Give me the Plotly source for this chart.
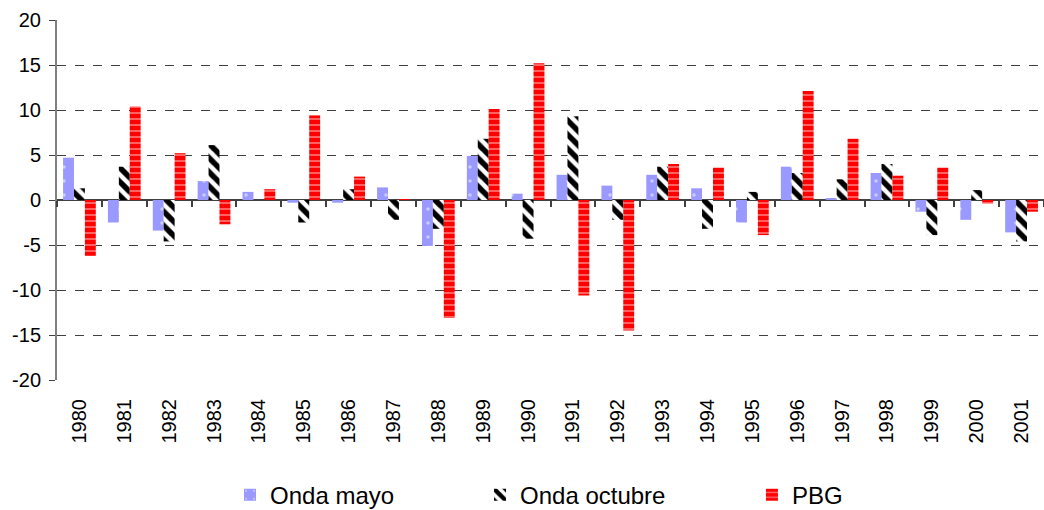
import plotly.graph_objects as go

years = [str(y) for y in range(1980, 2002)]
onda_mayo = [4.7, -2.5, -3.4, 2.1, 0.9, -0.3, -0.3, 1.4, -5.1, 4.9, 0.7,
             2.8, 1.6, 2.8, 1.3, -2.5, 3.7, 0.2, 3.0, -1.3, -2.2, -3.6]
onda_octubre = [1.3, 3.7, -4.6, 6.1, 0.0, -2.5, 1.2, -2.2, -3.2, 6.8, -4.3,
                9.3, -2.2, 3.7, -3.2, 0.9, 3.0, 2.3, 4.0, -3.9, 1.1, -4.6]
pbg = [-6.2, 10.4, 5.2, -2.7, 1.2, 9.4, 2.6, 0.1, -13.1, 10.1, 15.2,
       -10.6, -14.5, 4.0, 3.6, -3.9, 12.1, 6.8, 2.7, 3.6, -0.4, -1.3]
y_ticks = [-20, -15, -10, -5, 0, 5, 10, 15, 20]
y_tick_text = ["-20", "-15", "-10", "-5", "0", "5", "10", "15", "20"]

font = "Liberation Sans, Arial, sans-serif"

fig = go.Figure()

# Onda mayo: light blue with sparse white dots
fig.add_trace(go.Bar(
    x=years, y=onda_mayo, name="Onda mayo", legend="legend",
    marker=dict(color="#9999ff", line_width=0,
                pattern=dict(shape=".", fgcolor="white", bgcolor="#9999ff",
                             size=14, solidity=0.05)),
))

# Onda octubre: bold black diagonal stripes on white
fig.add_trace(go.Bar(
    x=years, y=onda_octubre, name="Onda octubre", legend="legend2",
    marker=dict(color="black", line_width=0,
                pattern=dict(shape="\\", fgcolor="black", fgopacity=1,
                             bgcolor="white", size=10, solidity=0.55)),
))

# PBG: red with thin light horizontal lines
fig.add_trace(go.Bar(
    x=years, y=pbg, name="PBG", legend="legend3",
    marker=dict(color="red", line_width=0,
                pattern=dict(shape="-", fgcolor="#ffd6d6", bgcolor="red",
                             size=6, solidity=0.3)),
))

# invisible trace carrying the tick marks along the zero line
fig.add_trace(go.Scatter(x=years, y=[0] * len(years), xaxis="x2",
                         mode="none", showlegend=False, hoverinfo="skip"))

leg = dict(orientation="h", xanchor="left", y=-0.32, yanchor="middle",
           font=dict(size=24), itemwidth=30, bgcolor="rgba(0,0,0,0)")

fig.update_layout(
    width=1044, height=510,
    margin=dict(l=57, r=0, t=20, b=130, autoexpand=False),
    paper_bgcolor="white", plot_bgcolor="white",
    font=dict(family=font, size=20, color="black"),
    barmode="group", bargap=0.27, bargroupgap=0,
    showlegend=True,
    legend=dict(leg, x=0.1753),
    legend2=dict(leg, x=0.4286),
    legend3=dict(leg, x=0.7041),
    xaxis=dict(type="category", showgrid=False, showline=False, ticks="",
               tickangle=-90, ticklabelstandoff=14, zeroline=False,
               automargin=False),
    xaxis2=dict(type="category", overlaying="x", matches="x", anchor="free",
                position=0.5, side="bottom", showline=False,
                showticklabels=False, ticks="outside", ticklen=6,
                tickcolor="#404040", tickwidth=1.5, tickson="boundaries",
                showgrid=False, zeroline=False, automargin=False),
    yaxis=dict(range=[-20, 20], tickvals=y_ticks, ticktext=y_tick_text,
               showgrid=True, gridcolor="#404040", griddash="dash",
               gridwidth=1, zeroline=True, zerolinecolor="#404040",
               zerolinewidth=1.5, showline=True, linecolor="#808080",
               linewidth=2, ticks="outside", ticklen=6, tickcolor="#404040",
               ticklabelstandoff=4, automargin=False),
)

fig.write_html("out.html", config={"displayModeBar": False},
               post_script="document.body.style.margin='0';"
                           "document.body.style.overflow='hidden';")
